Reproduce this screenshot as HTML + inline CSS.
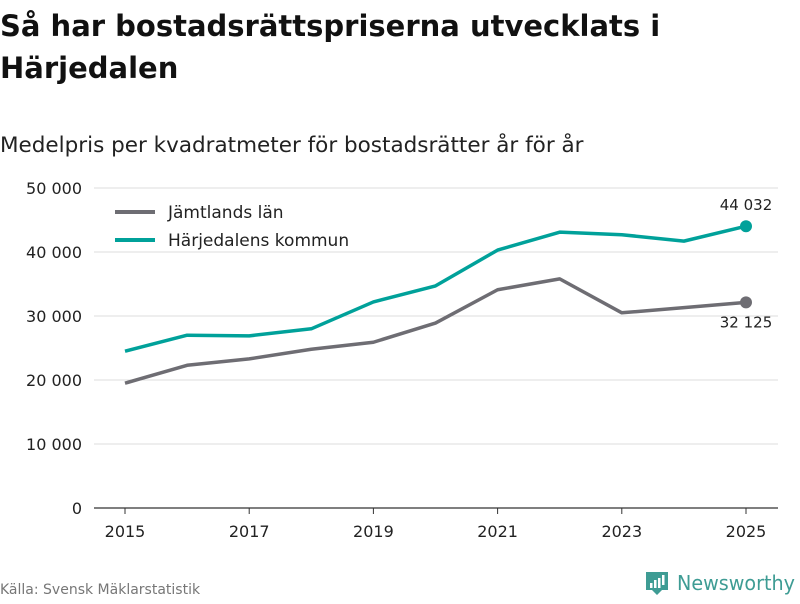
<!DOCTYPE html>
<html><head><meta charset="utf-8"><style>
body{margin:0;width:800px;height:600px;background:#fff;overflow:hidden;font-family:"DejaVu Sans","Liberation Sans",sans-serif;}
</style></head><body>
<svg id="chart" width="800" height="600" xmlns="http://www.w3.org/2000/svg">
<text x="0" y="36" font-size="29" font-weight="bold" fill="#111">Så har bostadsrättspriserna utvecklats i</text>
<text x="0" y="78" font-size="29" font-weight="bold" fill="#111">Härjedalen</text>
<text x="0" y="152" font-size="21.5" fill="#222">Medelpris per kvadratmeter för bostadsrätter år för år</text>
<g id="grid"></g><g id="xaxis"></g><g id="series"></g>
<g>
<line x1="115" y1="212" x2="155" y2="212" stroke="#6e6d73" stroke-width="4"/>
<text x="168" y="218" font-size="17" fill="#222">Jämtlands län</text>
<line x1="115" y1="240" x2="155" y2="240" stroke="#00a19a" stroke-width="4"/>
<text x="168" y="246" font-size="17" fill="#222">Härjedalens kommun</text>
</g>
<text x="0" y="594" font-size="14" fill="#777">Källa: Svensk Mäklarstatistik</text>
<g>
<path d="M646 572 h22 v18 h-6 l-5 5 l-5 -5 h-6 z" fill="#3e9c94"/>
<rect x="650" y="583" width="2.5" height="5" fill="#fff"/><rect x="654" y="580" width="2.5" height="8" fill="#fff"/><rect x="658" y="578" width="2.5" height="10" fill="#fff"/><rect x="662" y="575" width="2.5" height="10" fill="#fff"/>
<text x="677" y="590" font-size="20" fill="#3e9c94" textLength="118" lengthAdjust="spacingAndGlyphs">Newsworthy</text>
</g>
</svg>
<script>
const years=[2015,2016,2017,2018,2019,2020,2021,2022,2023,2024,2025];
const jamtland=[19500,22300,23300,24800,25900,28900,34100,35800,30500,31300,32125];
const harjedalen=[24500,27000,26900,28000,32200,34700,40300,43100,42700,41700,44032];
const yTicks=[0,10000,20000,30000,40000,50000];
const xTicks=[2015,2017,2019,2021,2023,2025];
const NS="http://www.w3.org/2000/svg";
const x=v=>125+(v-2015)*62.1;
const y=v=>508-v*0.0064;
const fmt=v=>v===0?"0":String(v).replace(/\B(?=(\d{3})+(?!\d))/g," ");
function mk(t,a,p){const e=document.createElementNS(NS,t);for(const k in a)e.setAttribute(k,a[k]);p.appendChild(e);return e;}
const grid=document.getElementById('grid');
yTicks.forEach(v=>{
 const l=mk('line',{x1:94,x2:778,y1:y(v),y2:y(v),stroke:v===0?'#333':'#ddd','stroke-width':v===0?1.2:1},grid);
 
 
 const t=mk('text',{x:82,y:y(v)+6,'font-size':16,fill:'#222','text-anchor':'end'},grid);
 t.textContent=fmt(v);
 
 
});
const xa=document.getElementById('xaxis');
xTicks.forEach(v=>{
 const l=mk('line',{x1:x(v),x2:x(v),y1:508,y2:514,stroke:'#333'},xa);
 
 
 const t=mk('text',{x:x(v),y:537,'font-size':16,fill:'#222','text-anchor':'middle'},xa);
 t.textContent=v;
 
 
});
const sg=document.getElementById('series');
function line(data,color,name,labelDy){
 const p=mk('polyline',{points:data.map((v,i)=>x(years[i])+','+y(v)).join(' '),fill:'none',stroke:color,'stroke-width':3.5,'stroke-linejoin':'round'},sg);
 
 
 const last=data[data.length-1];
 const c=mk('circle',{cx:x(years[years.length-1]),cy:y(last),r:6,fill:color},sg);
 
 
 const t=mk('text',{x:x(years[years.length-1]),y:y(last)+labelDy,'font-size':15,fill:'#222','text-anchor':'middle'},sg);
 t.textContent=fmt(last);
 
 
}
line(jamtland,'#6e6d73','jamtland',25);
line(harjedalen,'#00a19a','harjedalen',-16);
</script>
</body></html>
